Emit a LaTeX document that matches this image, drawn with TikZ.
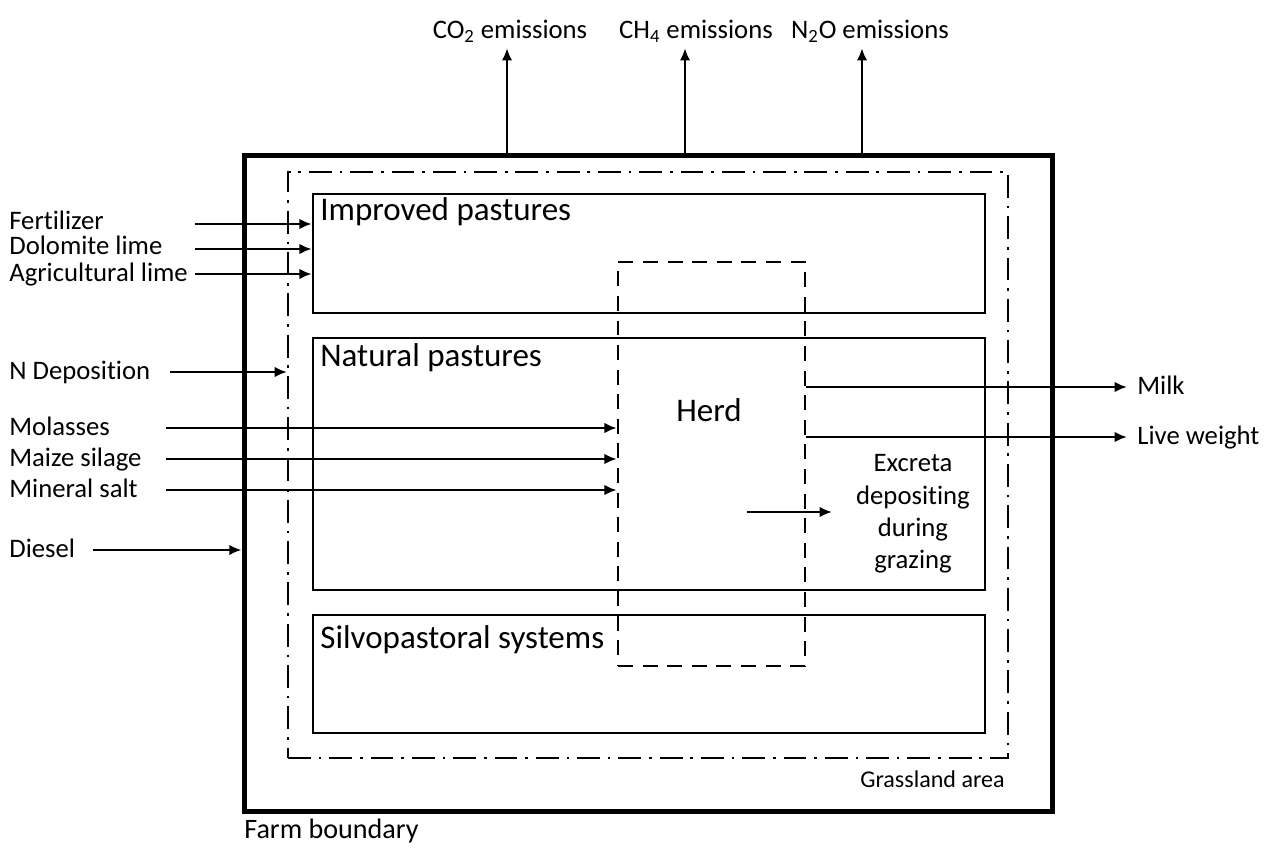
\documentclass[tikz,border=0pt]{standalone}
\usepackage{fontspec}
\setmainfont{Carlito}[Ligatures=NoCommon]
\usetikzlibrary{arrows.meta,positioning}

\tikzset{
  farmline/.style={draw, rectangle, line width=2.8pt, inner sep=0pt},
  grassline/.style={draw, rectangle, line width=1.2pt, inner sep=0pt,
    dash pattern=on 13pt off 4.5pt on 1.5pt off 4.5pt},
  areabox/.style={draw, rectangle, line width=1.5pt, inner sep=0pt, minimum width=13.44cm},
  herdbox/.style={draw, rectangle, line width=1.5pt, inner sep=0pt,
    dash pattern=on 8.5pt off 5.5pt},
  flow/.style={-{Latex[length=7pt,width=6pt]}, line width=1.6pt},
  lbl/.style={font=\fontsize{15.2}{18.4}\selectfont, inner sep=0pt},
  arealbl/.style={font=\fontsize{18.8}{22}\selectfont, inner sep=0pt},
  smalllbl/.style={font=\fontsize{13.7}{16}\selectfont, inner sep=0pt},
  farmlbl/.style={font=\fontsize{16}{19}\selectfont, inner sep=0pt}
}

\begin{document}
\begin{tikzpicture}[x=0.02cm, y=-0.02cm]
\useasboundingbox (0,0) rectangle (1272,848);

% farm and grassland
\node[farmline, minimum width=16.18cm, minimum height=13.14cm] (farm) at (648.5,483.5) {};
\node[grassline, minimum width=14.4cm, minimum height=11.72cm] (grass) at (648,465) {};
\node[smalllbl, anchor=base east] (grasstxt) at (1005,787) {Grassland area};
\node[farmlbl, anchor=base west] (farmtxt) at (244,838) {Farm boundary};

% pastures
\node[areabox, minimum height=2.38cm] (improved) at (649,253.5) {};
\node[areabox, minimum height=5.04cm] (natural) at (649,464) {};
\node[areabox, minimum height=2.36cm] (silvo) at (649,674) {};
\node[arealbl, anchor=base west] (improvedtxt) at (320,220) {Improved pastures};
\node[arealbl, anchor=base west] (naturaltxt) at (320,366) {Natural pastures};
\node[arealbl, anchor=base west] (silvotxt) at (320,648) {Silvopastoral systems};

% herd
\node[herdbox, minimum width=3.74cm, minimum height=8.08cm] (herd) at (711.5,464) {};
\node[arealbl, anchor=base] (herdtxt) at (709,421) {Herd};

% emissions
\node[lbl, anchor=base] (co2) at (510,39) {CO\textsubscript{2} emissions};
\node[lbl, anchor=base] (ch4) at (696,39) {CH\textsubscript{4} emissions};
\node[lbl, anchor=base] (n2o) at (870,39) {N\textsubscript{2}O emissions};
\coordinate (co2foot) at (507,155);
\coordinate (ch4foot) at (685,155);
\coordinate (n2ofoot) at (862,155);
\draw[flow] (co2foot) -- ([yshift=-0.1cm]co2foot |- co2.south);
\draw[flow] (ch4foot) -- ([yshift=-0.1cm]ch4foot |- ch4.south);
\draw[flow] (n2ofoot) -- ([yshift=-0.1cm]n2ofoot |- n2o.south);

% inputs
\node[lbl, anchor=base west] (fert) at (9,230) {Fertilizer};
\node[lbl, anchor=base west] (dolo) at (9,255) {Dolomite lime};
\node[lbl, anchor=base west] (agri) at (9,281) {Agricultural lime};
\node[lbl, anchor=base west] (ndep) at (9,379) {N Deposition};
\node[lbl, anchor=base west] (mola) at (9,435) {Molasses};
\node[lbl, anchor=base west] (maize) at (9,466) {Maize silage};
\node[lbl, anchor=base west] (salt) at (9,497) {Mineral salt};
\node[lbl, anchor=base west] (diesel) at (9,557) {Diesel};
\coordinate (fertS) at (195,224);
\coordinate (doloS) at (195,249);
\coordinate (agriS) at (195,274);
\coordinate (ndepS) at (170,372);
\coordinate (molaS) at (166,428);
\coordinate (maizeS) at (166,459);
\coordinate (saltS) at (166,490);
\coordinate (dieselS) at (93,550);
\draw[flow] (fertS) -- (fertS -| improved.west);
\draw[flow] (doloS) -- (doloS -| improved.west);
\draw[flow] (agriS) -- (agriS -| improved.west);
\draw[flow] (ndepS) -- (ndepS -| grass.west);
\draw[flow] (molaS) -- (molaS -| herd.west);
\draw[flow] (maizeS) -- (maizeS -| herd.west);
\draw[flow] (saltS) -- (saltS -| herd.west);
\draw[flow] (dieselS) -- (dieselS -| farm.west);

% outputs
\node[lbl, anchor=base west] (milk) at (1137,394) {Milk};
\node[lbl, anchor=base west] (live) at (1137,444) {Live weight};
\coordinate (milkE) at (1127,387);
\coordinate (liveE) at (1127,437);
\draw[flow] (herd.east |- milkE) -- (milkE);
\draw[flow] (herd.east |- liveE) -- (liveE);
\node[lbl, align=center] (excreta) at (913,514) {Excreta\\depositing\\during\\grazing};
\coordinate (excS) at (747,512);
\coordinate (excE) at (832,512);
\draw[flow] (excS) -- (excE);
\end{tikzpicture}
\end{document}
